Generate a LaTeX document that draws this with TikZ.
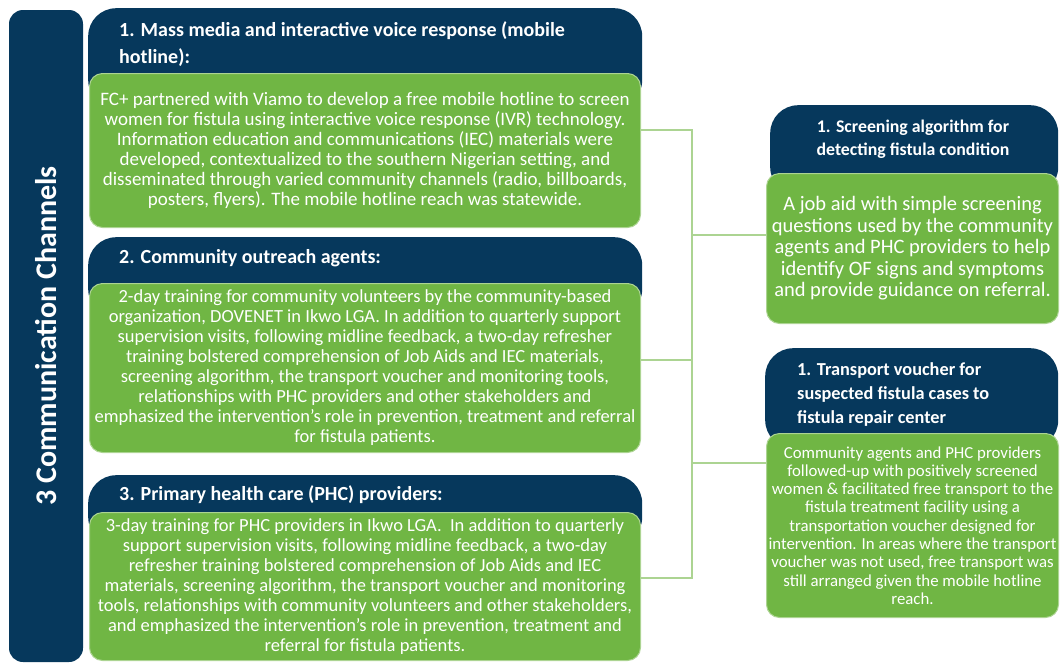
\documentclass[tikz,border=0pt]{standalone}
\usepackage{fontspec}
\setmainfont{Carlito}
\usetikzlibrary{positioning}
\definecolor{navy}{RGB}{6,56,92}
\definecolor{leaf}{RGB}{112,182,68}
\definecolor{leafline}{RGB}{172,212,146}

\tikzset{
  chanbar/.style={fill=navy, rounded corners=14pt, rotate=90, minimum width=652pt, minimum height=74pt, inner sep=0pt, text=white, font=\fontsize{30}{36}\selectfont\bfseries},
  hdbox/.style={fill=navy, rounded corners=28pt, anchor=north west, inner sep=0pt},
  hdtext/.style={text=white, anchor=north west, align=left, inner sep=0pt, font=\fontsize{20}{27}\selectfont\bfseries},
  bodybox/.style={fill=leaf, draw=leafline, line width=1pt, rounded corners=13pt, anchor=north west, inner sep=0pt, text=white, align=center},
  link/.style={draw=leafline, line width=1.5pt}
}

\begin{document}
\begin{tikzpicture}[x=1pt, y=-1pt]
\useasboundingbox (0,0) rectangle (1060,662);

% connectors
\coordinate (bus1) at (692,130);
\coordinate (bus2) at (692,360);
\coordinate (bus3) at (692,578);
\coordinate (busA) at (692,235);
\coordinate (busB) at (692,463);

\node[chanbar] (chan) at (46,336) {3 Communication Channels};

\node[hdbox, minimum width=554pt, minimum height=100pt] (hd1) at (88,8) {};
\node[hdtext] (t1) at (119,21) {1. Mass media and interactive voice response (mobile\\hotline):};
\node[bodybox, minimum width=551pt, minimum height=154pt, font=\fontsize{19}{20}\selectfont] (body1) at (89,73)
  {FC+ partnered with Viamo to develop a free mobile hotline to screen\\
   women for fistula using interactive voice response (IVR) technology.\\
   Information education and communications (IEC) materials were\\
   developed, contextualized to the southern Nigerian setting, and\\
   disseminated through varied community channels (radio, billboards,\\
   posters, flyers). The mobile hotline reach was statewide.};

\node[hdbox, minimum width=554pt, minimum height=80pt] (hd2) at (88,237) {};
\node[hdtext] (t2) at (119,249) {2. Community outreach agents:};
\node[bodybox, minimum width=551pt, minimum height=169pt, font=\fontsize{18.5}{20}\selectfont] (body2) at (89,283)
  {2-day training for community volunteers by the community-based\\
   organization, DOVENET in Ikwo LGA. In addition to quarterly support\\
   supervision visits, following midline feedback, a two-day refresher\\
   training bolstered comprehension of Job Aids and IEC materials,\\
   screening algorithm, the transport voucher and monitoring tools,\\
   relationships with PHC providers and other stakeholders and\\
   emphasized the intervention's role in prevention, treatment and referral\\
   for fistula patients.};

\node[hdbox, minimum width=554pt, minimum height=70pt] (hd3) at (88,475) {};
\node[hdtext] (t3) at (119,485) {3. Primary health care (PHC) providers:};
\node[bodybox, minimum width=551pt, minimum height=148pt, font=\fontsize{18.5}{20}\selectfont] (body3) at (89,512)
  {3-day training for PHC providers in Ikwo LGA.\ \ In addition to quarterly\\
   support supervision visits, following midline feedback, a two-day\\
   refresher training bolstered comprehension of Job Aids and IEC\\
   materials, screening algorithm, the transport voucher and monitoring\\
   tools, relationships with community volunteers and other stakeholders,\\
   and emphasized the intervention's role in prevention, treatment and\\
   referral for fistula patients.};

\node[hdbox, minimum width=288pt, minimum height=90pt] (hdA) at (770,105) {};
\node[text=white, align=center, inner sep=0pt, font=\fontsize{17.8}{23}\selectfont\bfseries] (tA) at (913,139)
  {1. Screening algorithm for\\detecting fistula condition};
\node[bodybox, minimum width=292pt, minimum height=150pt, font=\fontsize{20.5}{21.5}\selectfont] (bodyA) at (766,173)
  {A job aid with simple screening\\
   questions used by the community\\
   agents and PHC providers to help\\
   identify OF signs and symptoms\\
   and provide guidance on referral.};

\node[hdbox, minimum width=293pt, minimum height=100pt] (hdB) at (765,348) {};
\node[hdtext, font=\fontsize{18.3}{24}\selectfont\bfseries] (tB) at (797,362)
  {1. Transport voucher for\\suspected fistula cases to\\fistula repair center};
\node[bodybox, minimum width=292pt, minimum height=184pt, font=\fontsize{16.8}{18.3}\selectfont] (bodyB) at (766,433)
  {Community agents and PHC providers\\
   followed-up with positively screened\\
   women \& facilitated free transport to the\\
   fistula treatment facility using a\\
   transportation voucher designed for\\
   intervention. In areas where the transport\\
   voucher was not used, free transport was\\
   still arranged given the mobile hotline\\
   reach.};

\draw[link] (body1.east |- bus1) -- (bus1) -- (bus3) -- (body3.east |- bus3);
\draw[link] (body2.east |- bus2) -- (bus2);
\draw[link] (busA) -- (bodyA.west |- busA);
\draw[link] (busB) -- (bodyB.west |- busB);
\end{tikzpicture}
\end{document}
